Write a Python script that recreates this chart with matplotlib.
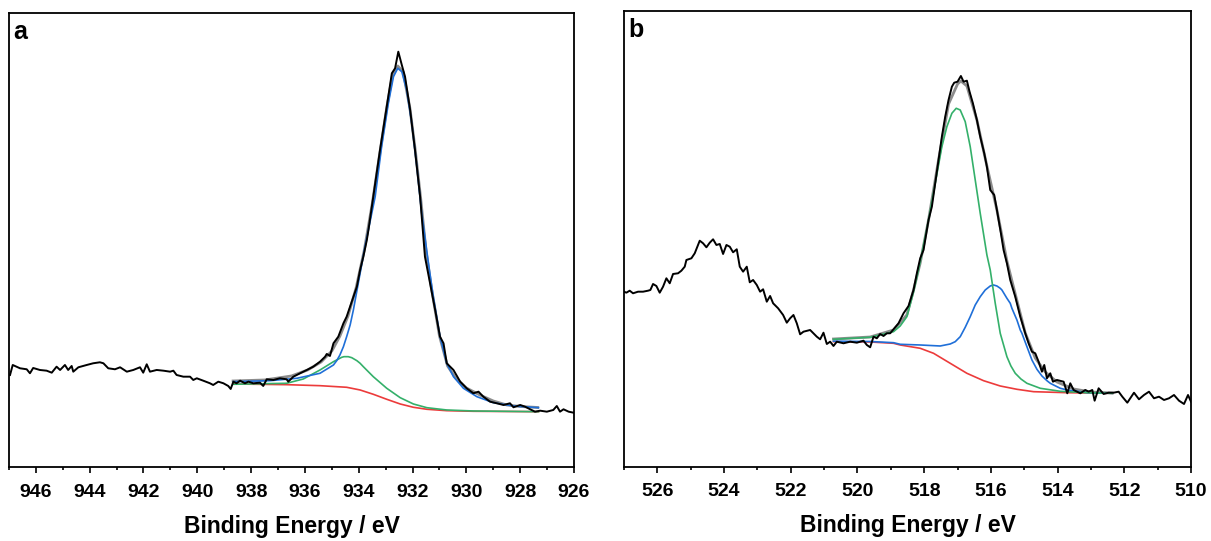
import matplotlib
matplotlib.use("Agg")
import matplotlib.pyplot as plt
from matplotlib.ticker import MultipleLocator

plt.rcParams['font.family'] = ['Liberation Sans', 'DejaVu Sans']
plt.rcParams['font.weight'] = 'bold'

# ---- panel a : raw spectrum (binding energy / eV, intensity a.u.) ----
a_raw_x = [946.96, 946.86, 946.59, 946.34, 946.22, 946.10, 945.85, 945.60, 945.41, 945.23,
           945.10, 944.92, 944.80, 944.67, 944.61, 944.42, 944.11, 943.87, 943.62, 943.49,
           943.31, 943.06, 942.87, 942.62, 942.38, 942.13, 942.01, 941.88, 941.76, 941.51,
           941.26, 941.01, 940.89, 940.77, 940.52, 940.27, 940.15, 940.02, 939.78, 939.53,
           939.41, 939.22, 939.03, 938.85, 938.76, 938.66, 938.54, 938.41, 938.23, 938.10,
           937.92, 937.67, 937.55, 937.42, 937.17, 936.93, 936.68, 936.62, 936.43, 936.18,
           935.93, 935.69, 935.44, 935.25, 935.19, 935.07, 934.94, 934.76, 934.57, 934.45,
           934.26, 934.07, 933.95, 933.83, 933.70, 933.64, 933.46, 933.21, 932.96, 932.77,
           932.65, 932.53, 932.40, 932.28, 932.09, 931.91, 931.72, 931.54, 931.35, 931.16,
           930.98, 930.85, 930.73, 930.48, 930.23, 929.99, 929.74, 929.55, 929.37, 929.12,
           928.87, 928.62, 928.38, 928.25, 928.00, 927.82, 927.63, 927.45, 927.26, 927.01,
           926.77, 926.64, 926.52, 926.39, 926.20, 926.02]
a_raw_y = [91, 101, 97.7, 96.7, 92.7, 98, 96, 95.3, 93.3, 99.3,
           96, 101, 96, 100, 94.3, 98.7, 101, 102.7, 103.7, 102.7,
           97.7, 96.7, 98.7, 94.3, 96, 98.7, 93.3, 101.7, 94.3, 96,
           95.3, 94.3, 95.3, 91, 89.3, 89.3, 86, 87.7, 85.3, 82.7,
           81, 84.3, 82.7, 80, 77, 84.3, 82.7, 85.3, 82.7, 84.3,
           82.7, 83.3, 80, 86.7, 86, 87.7, 86.7, 84.3, 89.3, 92.7,
           96, 99.3, 104.3, 109.3, 112, 110, 122.7, 129.3, 142.7, 149.3,
           164.3, 179.3, 196, 209.3, 226, 236, 269.3, 316, 359.3, 392.7,
           397.7, 414.3, 401, 389.3, 356, 316, 269.3, 209.3, 182.7, 156,
           129.3, 122.7, 102.7, 96, 84.3, 77.7, 72.7, 74.3, 69.3, 64.3,
           62.7, 61, 62.7, 58.7, 61, 59.3, 56.7, 54.3, 55.3, 54.3,
           56, 60, 54.3, 56.7, 54.3, 53.3]

# panel a : fitted components (background included)
a_bg_x = [938.66, 936.68, 935.44, 934.45, 933.95, 933.46, 932.96, 932.46, 931.97, 931.47,
          930.73, 929.74, 927.32]
a_bg_y = [82, 81.3, 80.3, 78.7, 76, 71.7, 66.7, 62, 58.7, 56.7, 55.3, 54.7, 54.3]

a_sat_x = [938.66, 936.68, 936.06, 935.44, 934.94, 934.82, 934.63, 934.55, 934.39, 934.26,
           934.07, 933.95, 933.83, 933.46, 932.96, 932.46, 931.97, 931.47, 930.73, 929.74,
           927.32]
a_sat_y = [81.7, 82.7, 87, 96, 104.3, 106, 108.7, 109.3, 109.3, 108.3,
           105.3, 102.7, 99.3, 89.3, 77.7, 68.3, 62, 58.3, 56, 55,
           54.3]

a_main_x = [938.66, 937.30, 936.30, 935.44, 934.94, 934.82, 934.70, 934.57, 934.45, 934.32,
            934.20, 933.95, 933.77, 933.39, 933.15, 932.90, 932.71, 932.55, 932.40, 932.22,
            932.03, 931.84, 931.66, 931.41, 931.23, 930.98, 930.73, 930.48, 930.11, 929.61,
            929.00, 928.25, 927.32]
a_main_y = [84.3, 85.3, 87.7, 92.7, 101, 105.3, 111, 119.3, 129.3, 141,
            156, 192.7, 219.3, 269.3, 319.3, 362.7, 389.3, 397.7, 394.3, 376,
            342.7, 299.3, 252.7, 202.7, 169.3, 129.3, 102.7, 89.3, 77.7, 69.3,
            63.3, 60, 58.3]

a_env_x = [938.67, 937.5, 936.5, 935.9, 935.4, 935.0, 934.7, 934.4, 934.1, 933.8,
           933.5, 933.2, 932.95, 932.75, 932.55, 932.35, 932.1, 931.9, 931.7, 931.5,
           931.3, 931.0, 930.7, 930.4, 930.0, 929.5, 929.0, 928.5, 928.0, 927.35]
a_env_y = [85, 86, 90, 96, 104, 115, 130, 150, 178, 215,
           262, 316, 360, 390, 400, 394, 358, 316, 268, 215,
           178, 130, 100, 88, 78, 71, 65, 61, 59.5, 58.5]

# ---- panel b : raw spectrum ----
b_raw_x = [527.0, 526.93, 526.83, 526.73, 526.58, 526.43, 526.28, 526.21, 526.13, 526.03,
           525.93, 525.83, 525.73, 525.63, 525.53, 525.38, 525.28, 525.18, 525.13, 524.98,
           524.88, 524.73, 524.63, 524.53, 524.43, 524.33, 524.23, 524.13, 524.03, 523.93,
           523.83, 523.73, 523.62, 523.53, 523.43, 523.32, 523.23, 523.13, 523.02, 522.92,
           522.83, 522.72, 522.62, 522.53, 522.38, 522.23, 522.12, 522.02, 521.92, 521.82,
           521.72, 521.62, 521.42, 521.32, 521.22, 521.12, 521.02, 520.92, 520.82, 520.72,
           520.62, 520.42, 520.22, 520.02, 519.82, 519.72, 519.62, 519.52, 519.42, 519.32,
           519.22, 519.12, 519.02, 518.92, 518.77, 518.62, 518.47, 518.32, 518.22, 518.12,
           518.02, 517.87, 517.77, 517.67, 517.57, 517.47, 517.37, 517.27, 517.17, 517.10,
           517.00, 516.90, 516.82, 516.72, 516.64, 516.54, 516.42, 516.32, 516.20, 516.12,
           516.02, 515.90, 515.82, 515.70, 515.62, 515.52, 515.42, 515.27, 515.12, 514.97,
           514.87, 514.77, 514.67, 514.57, 514.47, 514.40, 514.32, 514.22, 514.14, 514.02,
           513.82, 513.71, 513.62, 513.52, 513.32, 513.17, 513.07, 512.96, 512.89, 512.77,
           512.62, 512.47, 512.32, 512.17, 512.06, 511.91, 511.71, 511.56, 511.41, 511.26,
           511.11, 510.96, 510.81, 510.66, 510.51, 510.36, 510.21, 510.09, 510.0]
b_raw_y = [174.3, 173.3, 175.3, 172.7, 174.3, 174.3, 175.3, 176, 182, 180,
           173.3, 179.3, 187.7, 182.7, 192, 192.7, 195.3, 199.3, 206, 207.7,
           212.7, 225.3, 222.7, 218.7, 223.3, 226.7, 221, 222, 212, 221,
           219.3, 213.7, 216.7, 199.3, 194.3, 199.3, 183.7, 186, 181, 174.3,
           176.7, 164.3, 170, 162.7, 157.7, 151, 143.3, 147.7, 151, 142.7,
           131.7, 134.3, 136, 132.7, 129.3, 126.7, 133.3, 122, 124.3, 120,
           124.3, 122.7, 124.3, 123.3, 125.3, 121, 118.7, 129.3, 127.7, 132,
           130, 132.7, 132.7, 136.7, 142.7, 152.7, 160, 176, 192.7, 207.7,
           216, 246, 259.3, 282.7, 306, 329.3, 349.3, 366, 379.3, 383.3,
           384.3, 390, 384.3, 385.3, 374.3, 362.7, 346, 329.3, 312.7, 299.3,
           276, 271, 256, 232.7, 216, 202.7, 186, 169.3, 149.3, 132.7,
           122.7, 114.3, 112.7, 104.3, 94.3, 101, 87.7, 92.7, 84.3, 86,
           84.3, 72.7, 82.7, 76, 72.7, 76, 74.3, 76, 65.3, 77.7,
           72, 73.3, 73.3, 74.3, 69.3, 63.3, 73.3, 66.7, 71, 74.3,
           67.7, 69.3, 66, 67.7, 71, 65.3, 62, 71, 64.3]

# panel b : fitted components (background included)
b_bg_x = [520.72, 519.62, 518.92, 518.72, 518.12, 517.72, 517.22, 516.72, 516.22, 515.72,
          515.22, 514.72, 513.71, 512.36]
b_bg_y = [124.3, 124, 122.7, 121, 117.7, 112.7, 102.7, 92.7, 85.3, 80,
          76.7, 74.3, 73.3, 72.7]

b_low_x = [520.72, 519.62, 518.92, 518.72, 518.12, 517.52, 517.22, 517.07, 516.92, 516.77,
           516.62, 516.47, 516.32, 516.17, 516.02, 515.92, 515.82, 515.72, 515.67, 515.52,
           515.42, 515.37, 515.22, 515.12, 515.07, 514.92, 514.77, 514.62, 514.47, 514.32,
           514.22, 514.12, 513.92, 513.71, 513.11, 512.36]
b_low_y = [124.8, 124.5, 123.3, 121.7, 121, 120, 122, 124.3, 129.3, 138.7,
           149.3, 161, 169.3, 176, 180, 181, 180, 177.7, 176, 167.7,
           162.7, 157.7, 146, 136, 132.7, 119.3, 106, 96.7, 90, 85.3,
           82.7, 81, 77.7, 76, 73.3, 72.7]

b_main_x = [520.72, 519.62, 518.92, 518.72, 518.52, 518.32, 518.12, 517.87, 517.67, 517.47,
            517.32, 517.17, 517.04, 516.92, 516.77, 516.62, 516.47, 516.32, 516.12, 516.02,
            515.87, 515.72, 515.52, 515.40, 515.27, 515.10, 514.92, 514.52, 513.92, 513.11,
            512.36]
b_main_y = [126.7, 128.7, 134.3, 140, 149.3, 174, 204, 246, 282.7, 319.3,
            339.3, 352.7, 357.7, 356, 344.3, 319.3, 286, 252.7, 211, 196,
            162.7, 132.7, 109.3, 100, 92.7, 87, 82.7, 77.7, 74.7, 73.3,
            72.7]

b_env_x = [520.72, 519.62, 518.92, 518.52, 518.32, 518.12, 517.87, 517.57, 517.27, 517.0,
           516.9, 516.72, 516.42, 516.12, 515.82, 515.52, 515.27, 514.97, 514.67, 514.37,
           514.02, 513.52, 513.0, 512.36]
b_env_y = [127, 129, 136, 151, 176, 203, 246, 306, 362, 382,
           385, 380, 346, 300, 256, 205, 172, 133, 108, 94,
           84, 77, 74, 73]

BLACK = '#000000'
BLUE = '#1f6fd8'
GREEN = '#34b06a'
RED = '#ec3b3b'
GRAY = '#8c8c8c'


def style_axis(ax, xlim, ylim, label):
    ax.set_xlim(*xlim)
    ax.set_ylim(*ylim)
    ax.set_yticks([])
    ax.xaxis.set_major_locator(MultipleLocator(2))
    ax.xaxis.set_minor_locator(MultipleLocator(1))
    ax.tick_params(axis='x', which='major', direction='out', length=4, width=1.2,
                   labelsize=14, pad=7.8)
    ax.tick_params(axis='x', which='minor', direction='out', length=2.5, width=1.2)
    for lab in ax.get_xticklabels():
        lab.set_fontweight('bold')
    for sp in ax.spines.values():
        sp.set_linewidth(1.3)
    ax.set_xlabel('Binding Energy / eV', fontsize=16.5, fontweight='bold', labelpad=10)
    ax.text(0.007, 0.985, label, transform=ax.transAxes, fontsize=18,
            fontweight='bold', va='top', ha='left')


fig = plt.figure(figsize=(12.11, 5.41), dpi=100)
ax_a = fig.add_axes([0.0074, 0.1359, 0.4666, 0.8401])
ax_b = fig.add_axes([0.5153, 0.1368, 0.4682, 0.8429])

ax_a.plot(a_env_x, a_env_y, color=GRAY, lw=2.0)
ax_a.plot(a_bg_x, a_bg_y, color=RED, lw=1.2)
ax_a.plot(a_sat_x, a_sat_y, color=GREEN, lw=1.2)
ax_a.plot(a_main_x, a_main_y, color=BLUE, lw=1.2)
ax_a.plot(a_raw_x, a_raw_y, color=BLACK, lw=1.4)
style_axis(ax_a, (947, 926), (-1.5, 453), 'a')

ax_b.plot(b_env_x, b_env_y, color=GRAY, lw=2.0)
ax_b.plot(b_bg_x, b_bg_y, color=RED, lw=1.2)
ax_b.plot(b_low_x, b_low_y, color=BLUE, lw=1.2)
ax_b.plot(b_main_x, b_main_y, color=GREEN, lw=1.2)
ax_b.plot(b_raw_x, b_raw_y, color=BLACK, lw=1.4)
style_axis(ax_b, (527, 510), (-1, 455), 'b')

fig.savefig('out.png', dpi=100)
